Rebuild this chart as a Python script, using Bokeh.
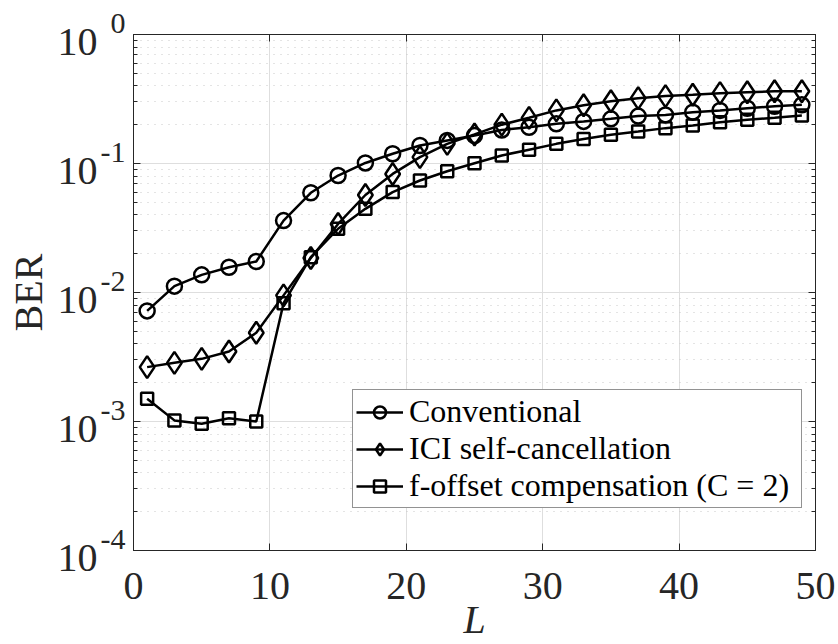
from bokeh.plotting import figure
from bokeh.models import (FixedTicker, LinearAxis, LogAxis, Legend, LegendItem,
                          Range1d, CustomJSTickFormatter)
from bokeh.embed import file_html
from bokeh.resources import INLINE

# ---------------- data ----------------
L = [1, 3, 5, 7, 9, 11, 13, 15, 17, 19, 21, 23, 25, 27, 29, 31, 33, 35, 37, 39,
     41, 43, 45, 47, 49]
ber_conventional = [0.0072, 0.0112, 0.0137, 0.0157, 0.0174, 0.0361, 0.0593, 0.0807,
                    0.101, 0.119, 0.138, 0.151, 0.165, 0.182, 0.191, 0.203, 0.212,
                    0.222, 0.233, 0.238, 0.250, 0.258, 0.268, 0.278, 0.285]
ber_ici = [0.00264, 0.00285, 0.00306, 0.00349, 0.00487, 0.0095, 0.0185, 0.034,
           0.057, 0.083, 0.112, 0.142, 0.168, 0.200, 0.226, 0.258, 0.283, 0.304,
           0.321, 0.333, 0.341, 0.351, 0.357, 0.363, 0.363]
ber_foffset = [0.0015, 0.00102, 0.00096, 0.00106, 0.00100, 0.00826, 0.0188, 0.0312,
               0.0445, 0.060, 0.0738, 0.0871, 0.1005, 0.1154, 0.128, 0.142, 0.155,
               0.167, 0.177, 0.188, 0.197, 0.209, 0.218, 0.226, 0.236]
series_labels = ["Conventional", "ICI self-cancellation",
                 "f-offset compensation (C = 2)"]
x_ticks = [0, 10, 20, 30, 40, 50]
y_exponents = [-4, -3, -2, -1, 0]
y_exponent_text = ["-4", "-3", "-2", "-1", "0"]
y_base_text = "10"
x_title = "L"
y_title = "BER"

# ---------------- styles ----------------
FONT = "Liberation Serif"
TXT = "#262626"
y_major = [10.0 ** e for e in y_exponents]
y_minor = [m * 10.0 ** e for e in y_exponents[:-1] for m in range(2, 10)]

p = figure(width=838, height=644, x_range=Range1d(0, 50), y_range=Range1d(1e-4, 1),
           y_axis_type="log", output_backend="svg", toolbar_location=None,
           min_border_left=133, min_border_right=23, min_border_top=34,
           min_border_bottom=94, background_fill_color="white",
           border_fill_color="white")
p.outline_line_color = TXT
p.outline_line_width = 1

xt = FixedTicker(ticks=x_ticks)
yt = FixedTicker(ticks=y_major, minor_ticks=y_minor)
yt_major = FixedTicker(ticks=y_major, minor_ticks=[])
blank = CustomJSTickFormatter(code="return ''")

# bottom axis
xa = p.xaxis[0]
xa.ticker = xt
xa.major_tick_in = 7
xa.major_tick_out = 0
xa.minor_tick_in = 0
xa.minor_tick_out = 0
xa.axis_line_color = TXT
xa.major_tick_line_color = TXT
xa.major_label_text_font = FONT
xa.major_label_text_font_size = "40px"
xa.major_label_text_color = TXT
xa.major_label_standoff = 22
# trailing empty line with negative spacing keeps the title compact
xa.axis_label = x_title + "\n "
xa.axis_label_text_font = FONT
xa.axis_label_text_font_style = "italic"
xa.axis_label_text_font_size = "40px"
xa.axis_label_text_line_height = -0.4
xa.axis_label_text_color = TXT
xa.axis_label_standoff = -5

# left axis: ticks only
ya = p.yaxis[0]
ya.ticker = yt
ya.formatter = blank
ya.major_tick_in = 7
ya.major_tick_out = 0
ya.minor_tick_in = 4
ya.minor_tick_out = 0
ya.axis_line_color = TXT
ya.major_tick_line_color = TXT
ya.minor_tick_line_color = TXT
ya.major_label_standoff = 0
ya.axis_label_standoff = 0

# left tick labels 10^e: raised exponent + base, as two label axes
exp_fmt = CustomJSTickFormatter(
    args=dict(exps=y_exponents, texts=y_exponent_text),
    code="""
const e = Math.round(Math.log10(tick));
const i = exps.indexOf(e);
return i >= 0 ? texts[i] + "\\n " : "";
""")
base_fmt = CustomJSTickFormatter(args=dict(base=y_base_text),
                                 code='return " \\n" + base;')

exp_axis = LogAxis(ticker=yt_major, formatter=exp_fmt, axis_line_color=None,
                   major_tick_line_color=None, minor_tick_line_color=None,
                   major_tick_in=0, major_tick_out=0, minor_tick_in=0,
                   minor_tick_out=0, major_label_standoff=8,
                   major_label_text_font=FONT, major_label_text_font_size="30px",
                   major_label_text_line_height=0.73,
                   major_label_text_color=TXT)
p.add_layout(exp_axis, "left")
base_axis = LogAxis(ticker=yt_major, formatter=base_fmt, axis_line_color=None,
                    major_tick_line_color=None, minor_tick_line_color=None,
                    major_tick_in=0, major_tick_out=0, minor_tick_in=0,
                    minor_tick_out=0, major_label_standoff=0,
                    major_label_text_font=FONT, major_label_text_font_size="40px",
                    major_label_text_line_height=0.3,
                    major_label_text_color=TXT,
                    axis_label=y_title, axis_label_text_font=FONT,
                    axis_label_text_font_style="normal",
                    axis_label_text_font_size="40px", axis_label_text_color=TXT,
                    axis_label_standoff=4)
p.add_layout(base_axis, "left")

# top and right axes (box)
top = LinearAxis(ticker=xt, formatter=blank, major_tick_in=7, major_tick_out=0,
                 minor_tick_in=0, minor_tick_out=0, axis_line_color=TXT,
                 major_tick_line_color=TXT, major_label_standoff=0)
p.add_layout(top, "above")
right = LogAxis(ticker=yt, formatter=blank, major_tick_in=7, major_tick_out=0,
                minor_tick_in=4, minor_tick_out=0, axis_line_color=TXT,
                major_tick_line_color=TXT, minor_tick_line_color=TXT,
                major_label_standoff=0)
p.add_layout(right, "right")

# grids
p.xgrid.ticker = xt
p.xgrid.grid_line_color = "#dedede"
p.ygrid.ticker = yt
p.ygrid.grid_line_color = "#dedede"
p.ygrid.minor_grid_line_color = "#c8c8c8"
p.ygrid.minor_grid_line_dash = "1 6"

# series
items = []
for ys, mk, sz, lab in zip([ber_conventional, ber_ici, ber_foffset],
                           ["circle", "diamond", "square"], [15, 22, 12],
                           series_labels):
    lr = p.line(L, ys, line_color="black", line_width=2.5)
    sr = p.scatter(L, ys, marker=mk, size=sz, fill_color=None, line_color="black",
                   line_width=2.5)
    items.append(LegendItem(label=lab, renderers=[lr, sr]))

legend = Legend(items=items, location=(219, 42), label_text_font=FONT,
                label_text_font_size="32px", label_text_color="black",
                glyph_width=47, glyph_height=30, label_height=37, label_standoff=6,
                label_width=389, padding=3, spacing=0, margin=0,
                border_line_color=TXT, border_line_width=1,
                background_fill_color="white", background_fill_alpha=1.0)
p.add_layout(legend)

open("out.html", "w").write(file_html(p, INLINE))
